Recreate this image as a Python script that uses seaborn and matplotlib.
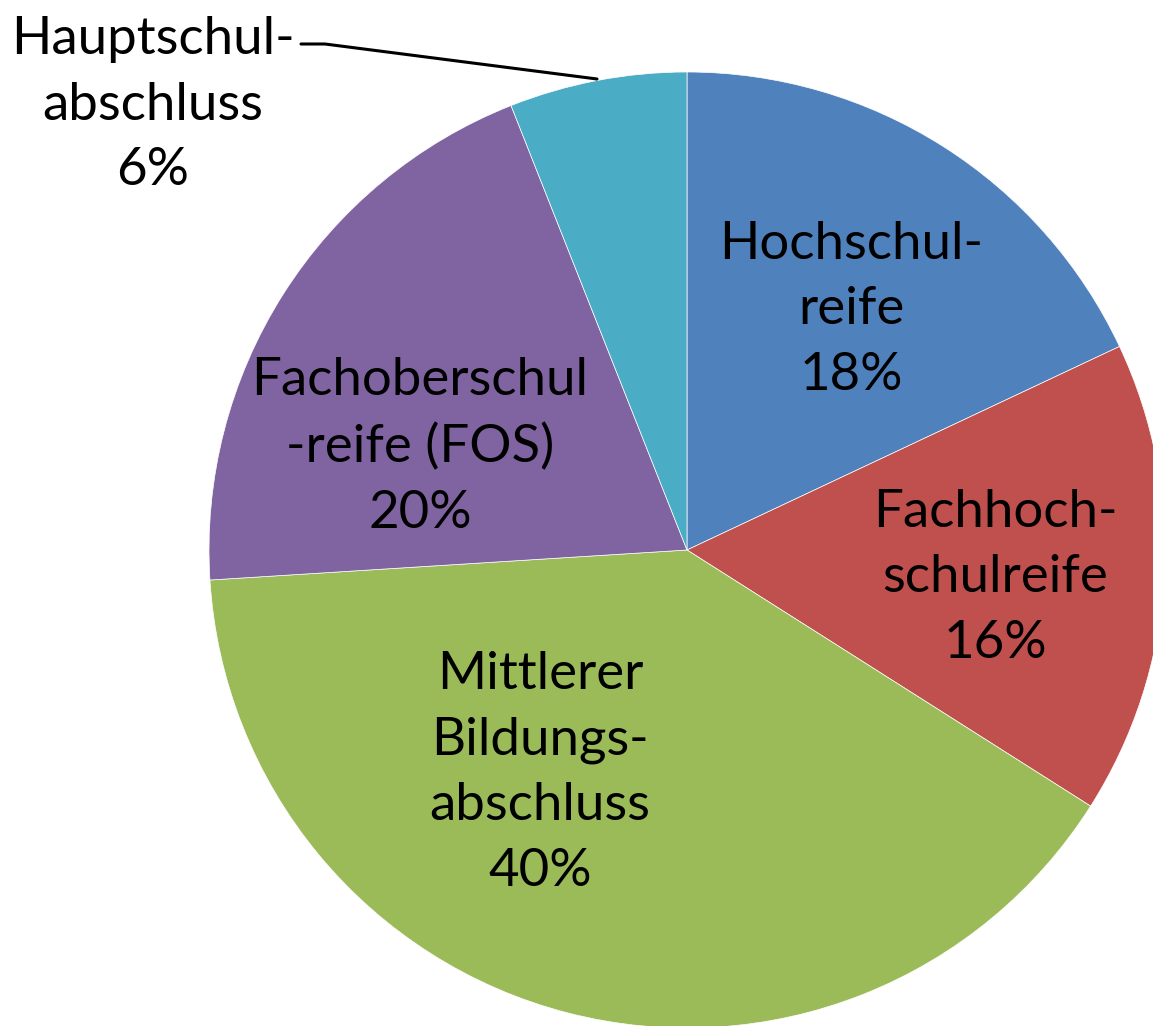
import matplotlib
matplotlib.use("Agg")
import matplotlib.pyplot as plt
import seaborn as sns

# Schulabschluss shares (clockwise from top)
categories = ["Hochschul-\nreife", "Fachhoch-\nschulreife", "Mittlerer\nBildungs-\nabschluss",
              "Fachoberschul\n-reife (FOS)", "Hauptschul-\nabschluss"]
shares = [18, 16, 40, 20, 6]
colors = ["#4F81BD", "#C0504D", "#9BBB59", "#8064A2", "#4BACC6"]

# label centres in picture pixels (x, y from top)
label_pos = [(851, 310), (995, 578), (540, 773), (420, 447), (153, 105)]

sns.set_theme(style="white")
plt.rcParams['font.family'] = ['Lato', 'DejaVu Sans']

W, H = 1153, 1026
fig = plt.figure(figsize=(W / 100, H / 100), dpi=100)
ax = fig.add_axes([0, 0, 1, 1])

ax.pie(shares, colors=colors, startangle=90, counterclock=False,
       center=(687, H - 550), radius=478,
       wedgeprops=dict(edgecolor="white", linewidth=0.5))
ax.set_xlim(0, W)
ax.set_ylim(0, H)
ax.axis("off")

for lab, val, (x, y) in zip(categories, shares, label_pos):
    ax.text(x, H - y, f"{lab}\n{val}%", ha="center", va="center",
            fontsize=38, linespacing=1.48, color="black")

# leader line for the small slice
ax.plot([301, 325, 597], [H - 44, H - 44, H - 79], color="black", lw=2.2)

fig.savefig("out.png", dpi=100)
